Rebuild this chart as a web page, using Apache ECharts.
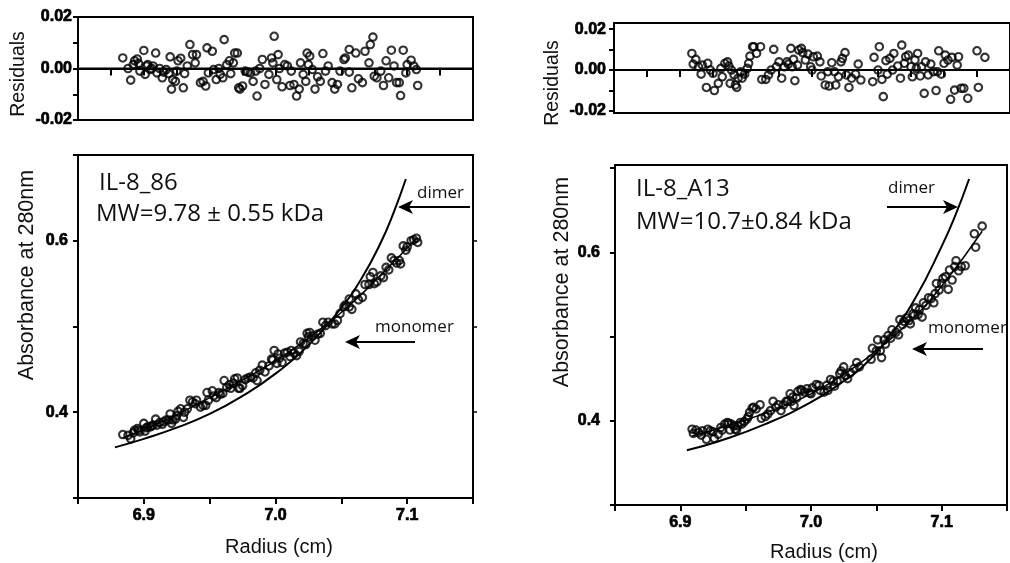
<!DOCTYPE html>
<html><head><meta charset="utf-8">
<script src="https://cdn.jsdelivr.net/npm/echarts@6/dist/echarts.min.js"></script>
<style>html,body{margin:0;padding:0;background:#fff}#c{width:1010px;height:563px}</style>
</head><body><div id="c"></div>
<script>
// ---------- Left sample (IL-8_86) ----------
const leftX = [6.884,6.888,6.890,6.892,6.893,6.895,6.896,6.897,6.900,6.901,
6.902,6.903,6.905,6.906,6.907,6.909,6.910,6.912,6.914,6.915,
6.917,6.919,6.920,6.921,6.922,6.924,6.925,6.926,6.928,6.930,
6.931,6.933,6.935,6.937,6.939,6.940,6.943,6.945,6.947,6.948,
6.949,6.952,6.953,6.955,6.957,6.958,6.960,6.961,6.963,6.965,
6.966,6.968,6.969,6.971,6.972,6.973,6.975,6.977,6.979,6.981,
6.983,6.985,6.986,6.988,6.990,6.992,6.995,6.997,6.998,6.999,
7.001,7.002,7.003,7.005,7.007,7.009,7.011,7.012,7.014,7.016,
7.018,7.019,7.021,7.023,7.024,7.025,7.026,7.028,7.030,7.032,
7.034,7.036,7.038,7.040,7.043,7.045,7.047,7.049,7.052,7.053,
7.056,7.056,7.058,7.061,7.063,7.066,7.068,7.071,7.072,7.074,
7.075,7.077,7.080,7.082,7.084,7.086,7.088,7.090,7.092,7.094,
7.095,7.097,7.099,7.100,7.103,7.105,7.107,7.108];
const leftResid = [0.0041,0,-0.0045,0.0015,0.003,0.0037,0.002,-0.001,0.007,-0.0023,
0.001,0.0015,-0.0004,0,0.001,0.006,-0.0017,0,-0.0036,-0.0014,
-0.0004,-0.002,0.0045,-0.008,-0.0043,-0.005,-0.001,0.003,0.004,-0.0075,
-0.002,0.001,0.0093,0.0054,0.0022,0.0054,-0.0055,-0.005,-0.0068,0.008,
-0.0017,0.0067,-0.0004,-0.0043,0,-0.0023,-0.0036,0.0112,0.0015,0.003,
-0.002,0.0022,0.006,0.006,-0.0075,-0.008,-0.0068,-0.001,-0.0014,-0.0017,
-0.005,-0.001,-0.0107,0,0.0035,-0.0062,-0.0023,0.0041,0.0022,0.0125,
-0.0043,0.0054,0,-0.0071,0.0015,0.001,-0.0066,-0.001,-0.0062,-0.0107,
-0.008,0.0022,-0.0023,-0.005,0.006,0.0015,0.0048,-0.0004,-0.008,-0.0032,
-0.005,0.0058,-0.001,0.001,-0.0055,-0.008,-0.0062,-0.001,0.0035,0.0041,
0.0074,-0.0014,-0.0075,0.006,-0.004,-0.0055,0.0067,0.0022,0.0093,0.0122,
-0.003,-0.0036,-0.001,-0.0066,0.003,-0.0036,0.0071,0.001,-0.0055,-0.0055,
-0.0105,0.0071,-0.0017,0.0015,0.0032,0.001,-0.0004,-0.0066];
const leftAbs = [0.374,0.373,0.369,0.376,0.379,0.381,0.379,0.377,0.387,0.378,
0.382,0.383,0.383,0.384,0.385,0.392,0.385,0.388,0.386,0.389,
0.391,0.391,0.398,0.387,0.391,0.392,0.396,0.401,0.404,0.394,
0.400,0.404,0.414,0.412,0.410,0.414,0.406,0.408,0.408,0.423,
0.414,0.425,0.419,0.417,0.423,0.421,0.422,0.437,0.429,0.432,
0.428,0.434,0.439,0.440,0.428,0.428,0.431,0.438,0.440,0.441,
0.440,0.446,0.437,0.449,0.455,0.447,0.454,0.462,0.461,0.472,
0.457,0.468,0.463,0.458,0.469,0.470,0.465,0.472,0.469,0.466,
0.471,0.482,0.480,0.479,0.492,0.488,0.493,0.489,0.484,0.491,
0.492,0.505,0.501,0.505,0.503,0.503,0.507,0.515,0.523,0.525,
0.532,0.523,0.520,0.538,0.531,0.534,0.549,0.549,0.558,0.563,
0.550,0.552,0.559,0.557,0.569,0.566,0.580,0.577,0.574,0.577,
0.573,0.594,0.589,0.593,0.600,0.601,0.603,0.598];
const leftFitX = [6.884,6.905,6.930,6.955,6.980,7.005,7.030,7.055,7.080,7.107];
const leftFitY = [0.370,0.383,0.401,0.421,0.442,0.465,0.492,0.523,0.560,0.603];
const leftDimerX = [6.878,6.900,6.925,6.950,6.975,7.000,7.025,7.050,7.065,7.080,7.090,7.099];
const leftDimerY = [0.359,0.369,0.382,0.398,0.419,0.445,0.478,0.522,0.555,0.598,0.634,0.672];

// ---------- Right sample (IL-8_A13) ----------
const rightX = [6.909,6.910,6.912,6.914,6.916,6.917,6.920,6.921,6.923,6.925,
6.926,6.929,6.931,6.932,6.934,6.936,6.937,6.938,6.939,6.941,
6.942,6.943,6.944,6.946,6.947,6.949,6.951,6.952,6.953,6.955,
6.956,6.958,6.961,6.962,6.965,6.967,6.969,6.971,6.973,6.975,
6.977,6.979,6.981,6.982,6.984,6.985,6.986,6.987,6.989,6.990,
6.992,6.993,6.995,6.997,6.999,7.000,7.001,7.004,7.006,7.007,
7.010,7.012,7.013,7.015,7.017,7.018,7.020,7.022,7.023,7.025,
7.026,7.028,7.030,7.033,7.035,7.037,7.046,7.047,7.050,7.051,
7.053,7.054,7.056,7.057,7.059,7.061,7.062,7.065,7.067,7.068,
7.070,7.071,7.073,7.075,7.076,7.078,7.079,7.080,7.082,7.083,
7.085,7.086,7.088,7.090,7.092,7.094,7.095,7.096,7.098,7.100,
7.101,7.103,7.105,7.106,7.108,7.110,7.111,7.113,7.115,7.118,
7.125,7.126,7.131];
const rightResid = [0.0081,0.0029,0.0052,0.0016,-0.002,0.0024,-0.0085,0.0033,0,-0.0016,
-0.010,-0.0065,0.0008,-0.0033,0.0033,0.004,0.002,-0.0065,0,-0.0024,
-0.0073,-0.0085,-0.004,-0.0008,-0.004,-0.002,0.0008,0.0033,0.0068,0.0114,
0.0114,0.0081,0.0114,-0.0046,-0.0046,-0.0024,0,0.0101,0.0016,0.004,
-0.004,0.0016,0.004,0.0029,0.0106,0.0016,0.0052,-0.0052,0.0024,0.0098,
0.0106,0.0085,0.0049,0.0078,0.0016,0,0.0065,0.0068,0.004,-0.0029,
-0.0073,-0.0008,-0.0078,0.0036,-0.0008,-0.0073,-0.0033,0.004,0.0057,0.0085,
-0.0024,-0.0085,-0.004,-0.002,0.0029,-0.0049,-0.0057,0.0062,0,0.0114,
-0.0046,-0.013,0.0046,-0.002,0.0057,0,0.0081,0.002,-0.004,0.0122,
0.0033,0.0065,0.0073,0.0016,-0.0033,0.0049,0.0008,0.0081,-0.0029,0.0016,
-0.0114,0.004,-0.0024,0.0029,-0.0008,-0.010,-0.0008,0.0094,-0.002,0.0033,
0.0073,0.0049,-0.0143,0.0062,-0.0098,0.0024,0.0065,-0.0089,-0.0089,-0.0138,
0.0094,-0.0085,0.0062];
const rightAbs = [0.390,0.385,0.389,0.386,0.383,0.388,0.378,0.390,0.388,0.387,
0.379,0.384,0.392,0.389,0.396,0.398,0.397,0.389,0.396,0.394,
0.390,0.389,0.394,0.398,0.396,0.399,0.402,0.405,0.410,0.415,
0.416,0.414,0.419,0.403,0.405,0.408,0.412,0.423,0.416,0.419,
0.412,0.419,0.423,0.423,0.432,0.423,0.428,0.418,0.427,0.435,
0.437,0.436,0.434,0.438,0.433,0.432,0.439,0.443,0.442,0.436,
0.434,0.442,0.436,0.449,0.447,0.441,0.447,0.456,0.459,0.464,
0.454,0.450,0.457,0.462,0.469,0.464,0.473,0.486,0.483,0.496,
0.483,0.475,0.496,0.491,0.501,0.498,0.508,0.505,0.502,0.520,
0.514,0.518,0.522,0.519,0.515,0.527,0.525,0.534,0.526,0.532,
0.523,0.540,0.537,0.546,0.545,0.540,0.551,0.563,0.555,0.563,
0.569,0.571,0.556,0.579,0.567,0.583,0.590,0.578,0.583,0.584,
0.622,0.606,0.631];
const rightFitX = [6.909,6.930,6.950,6.975,7.000,7.025,7.050,7.075,7.100,7.131];
const rightFitY = [0.382,0.391,0.401,0.415,0.432,0.455,0.483,0.517,0.560,0.625];
const rightDimerX = [6.905,6.930,6.965,7.000,7.025,7.040,7.060,7.080,7.100,7.110,7.121];
const rightDimerY = [0.365,0.376,0.396,0.422,0.447,0.465,0.500,0.546,0.607,0.642,0.687];

// ---------- Axes ----------
const zeroLineX = [6.85, 7.15];
const xTickLabels = ['6.9', '7.0', '7.1'];
const resTicks = [-0.02, -0.01, 0, 0.01, 0.02];
const resTickLabels = [-0.02, 0, 0.02];
const absTicks = [0.3, 0.4, 0.5, 0.6, 0.7];
const absTickLabels = [0.4, 0.6];
const absRightTicks = [0.4, 0.5, 0.6];

const zip = (xs, ys) => xs.map((x, i) => [x, ys[i]]);
const tickFont = {fontFamily: 'Liberation Sans, Arial, sans-serif', fontWeight: 'bold', fontSize: 16, color: '#000',
  textBorderColor: '#000', textBorderWidth: 0.7};
const axLine = {show: true, lineStyle: {color: '#000', width: 2}};

function xAxisCfg(grid, labels, tickLen) {
  return {
    type: 'value', gridIndex: grid, min: 6.85, max: 7.15,
    interval: labels ? 0.05 : 0.025,
    axisLine: axLine, splitLine: {show: false},
    axisTick: {show: true, length: tickLen, lineStyle: {color: '#000', width: 2}},
    axisLabel: labels ? Object.assign({show: true, margin: 10, showMinLabel: true, showMaxLabel: true,
      formatter: v => { const s = v.toFixed(1); return (Math.abs(v * 10 - Math.round(v * 10)) < 1e-6 && xTickLabels.includes(s)) ? s : ''; }}, tickFont) : {show: false}
  };
}
function yAxisCfg(grid, min, max, ticks, labels, margin, digits) {
  return {
    type: 'value', gridIndex: grid, min: min, max: max,
    axisLine: axLine, splitLine: {show: false},
    axisTick: {show: true, length: 5, customValues: ticks, lineStyle: {color: '#000', width: 2}},
    axisLabel: Object.assign({show: true, margin: margin, customValues: labels,
      formatter: v => (Math.abs(v) < 1e-9 ? 0 : v).toFixed(digits)}, tickFont)
  };
}

const scatterStyle = {color: 'rgba(0,0,0,0)', borderColor: '#000', borderWidth: 2.1};
function scatter(xi, yi, data) {
  return {type: 'scatter', xAxisIndex: xi, yAxisIndex: yi, data: data, symbol: 'circle', symbolSize: 7.5,
    itemStyle: scatterStyle, silent: true, z: 3};
}
function line(xi, yi, data, w, smooth) {
  return {type: 'line', xAxisIndex: xi, yAxisIndex: yi, data: data, showSymbol: false, smooth: smooth,
    lineStyle: {color: '#000', width: w}, silent: true, z: 2};
}

function arrow(tipX, tipY, tailX, dir) {
  // dir = -1 : pointing left, +1 : pointing right
  const L = 15, H = 7, N = 4;
  return [
    {type: 'line', shape: {x1: tailX, y1: tipY, x2: tipX - dir * 8, y2: tipY}, style: {stroke: '#000', lineWidth: 2}},
    {type: 'polygon', shape: {points: [[tipX, tipY], [tipX - dir * L, tipY - H], [tipX - dir * (L - N), tipY], [tipX - dir * L, tipY + H]]},
      style: {fill: '#000'}}
  ];
}
const annFont = 'Open Sans, sans-serif';
const nameFont = 'Liberation Sans, Arial, sans-serif';
function txt(x, y, text, size, font, rot, align) {
  return {type: 'text', x: x, y: y, rotation: rot || 0,
    style: {text: text, fontSize: size, fontFamily: font, fill: '#111', align: align || 'left', verticalAlign: 'middle'}};
}

const option = {
  animation: false,
  backgroundColor: '#fff',
  grid: [
    {left: 78, right: 537, top: 17, bottom: 443, show: true, borderColor: '#000', borderWidth: 2},
    {left: 78, right: 537, top: 155, bottom: 65, show: true, borderColor: '#000', borderWidth: 2},
    {left: 614, right: -5, top: 23, bottom: 450, show: true, borderColor: '#000', borderWidth: 2},
    {left: 615, right: -5, top: 165, bottom: 58, show: true, borderColor: '#000', borderWidth: 2}
  ],
  xAxis: [
    xAxisCfg(0, false, 7), xAxisCfg(1, true, 6), xAxisCfg(2, false, 7), xAxisCfg(3, true, 6)
  ],
  yAxis: [
    yAxisCfg(0, -0.02, 0.02, resTicks, resTickLabels, 6, 2),
    yAxisCfg(1, 0.3, 0.7, absTicks, absTickLabels, 10, 1),
    yAxisCfg(2, -0.021, 0.023, resTicks, resTickLabels, 8, 2),
    yAxisCfg(3, 0.3, 0.7036, absTicks, absTickLabels, 15, 1),
    {type: 'value', gridIndex: 1, position: 'right', min: 0.3, max: 0.7,
      axisLine: {show: false}, splitLine: {show: false}, axisLabel: {show: false},
      axisTick: {show: true, length: 4, customValues: absRightTicks, lineStyle: {color: '#000', width: 1.5}}}
  ],
  series: [
    line(0, 0, zeroLineX.map(x => [x, 0]), 2, false),
    scatter(0, 0, zip(leftX, leftResid)),
    line(1, 1, zip(leftDimerX, leftDimerY), 2, true),
    line(1, 1, zip(leftFitX, leftFitY), 1.5, true),
    scatter(1, 1, zip(leftX, leftAbs)),
    line(2, 2, zeroLineX.map(x => [x, 0]), 2, false),
    scatter(2, 2, zip(rightX, rightResid)),
    line(3, 3, zip(rightDimerX, rightDimerY), 2, true),
    line(3, 3, zip(rightFitX, rightFitY), 1.5, true),
    scatter(3, 3, zip(rightX, rightAbs))
  ],
  graphic: [
    txt(19, 74, 'Residuals', 19.5, nameFont, Math.PI / 2, 'center'),
    txt(27, 275, 'Absorbance at 280nm', 21.5, nameFont, Math.PI / 2, 'center'),
    txt(279, 547, 'Radius (cm)', 20, nameFont, 0, 'center'),
    txt(553, 83, 'Residuals', 19.5, nameFont, Math.PI / 2, 'center'),
    txt(562, 282, 'Absorbance at 280nm', 21.5, nameFont, Math.PI / 2, 'center'),
    txt(824, 552, 'Radius (cm)', 20, nameFont, 0, 'center'),
    txt(99, 183, 'IL-8_86', 24, annFont),
    txt(96, 214, 'MW=9.78 \u00b1 0.55 kDa', 24, annFont),
    txt(636, 189, 'IL-8_A13', 24, annFont),
    txt(636, 222, 'MW=10.7\u00b10.84 kDa', 24, annFont),
    txt(417, 193, 'dimer', 17, annFont),
    txt(375, 327, 'monomer', 17, annFont),
    txt(888, 188, 'dimer', 17, annFont),
    txt(928, 328, 'monomer', 17, annFont),
    ...arrow(398, 207, 470, -1),
    ...arrow(345, 342, 415, -1),
    ...arrow(958, 207, 887, 1),
    ...arrow(912, 349, 983, -1)
  ]
};
const chart = echarts.init(document.getElementById('c'), null, {renderer: 'canvas'});
chart.setOption(option);
</script>
</body></html>
